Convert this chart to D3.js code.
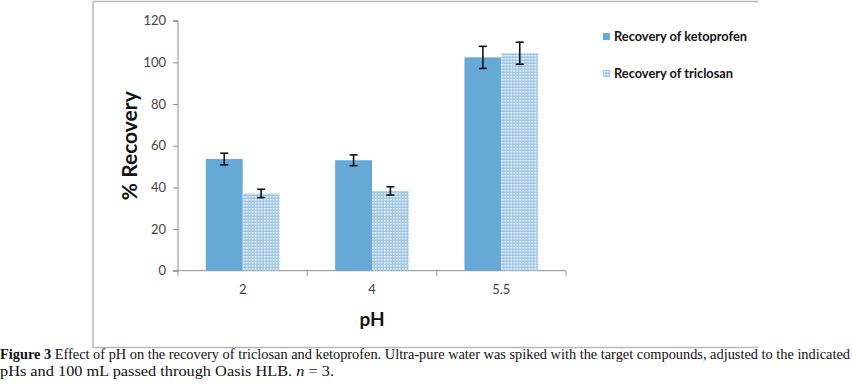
<!DOCTYPE html>
<html><head><meta charset="utf-8">
<script src="https://cdn.jsdelivr.net/npm/d3@7"></script>
<style>body{margin:0;background:#fff}svg{display:block}</style>
</head><body><svg id="c" width="852" height="391"></svg>
<script>
const categories = ["2", "4", "5.5"];
const seriesNames = ["Recovery of ketoprofen", "Recovery of triclosan"];
const ketoprofen = [53.6, 53.0, 102.4];
const ketoprofenErr = [2.8, 2.6, 5.3];
const triclosan = [37.1, 38.3, 104.4];
const triclosanErr = [2.0, 2.0, 5.3];
const yTicks = [0, 20, 40, 60, 80, 100, 120];
const captionBold = "Figure 3";
const captionLine1 = " Effect of pH on the recovery of triclosan and ketoprofen. Ultra-pure water was spiked with the target compounds, adjusted to the indicated";
const captionLine2a = "pHs and 100 mL passed through Oasis HLB. ";
const captionLine2b = "n";
const captionLine2c = " = 3.";

const svg = d3.select("#c");
const defs = svg.append("defs");
const pat = defs.append("pattern").attr("id","hatch").attr("patternUnits","userSpaceOnUse")
  .attr("width",3).attr("height",3);
pat.append("rect").attr("width",3).attr("height",3).attr("fill","#9fc6e6");
pat.append("rect").attr("x",1).attr("y",1).attr("width",1.5).attr("height",1.5).attr("fill","#ffffff");

// frame
const fr = svg.append("g").attr("stroke","#b8b8b8").attr("stroke-width",1.5).attr("fill","none");
fr.append("path").attr("d","M758,1.5 H93 V347.5 H758");

const x0 = 178, x1 = 566, yTop = 20.7, yBot = 270.7;
const x = d3.scaleBand().domain(categories).range([x0, x1]).paddingInner(0.43).paddingOuter(0.215);
const xs = d3.scaleBand().domain(seriesNames).range([0, x.bandwidth()]);
const y = d3.scaleLinear().domain([0, 120]).range([yBot, yTop]);

// y axis
const ya = svg.append("g").attr("transform",`translate(${x0},0)`)
  .call(d3.axisLeft(y).tickValues(yTicks).tickSize(5).tickPadding(7));
ya.select(".domain").attr("stroke","#8c8c8c").attr("d",`M-5,${yTop}H0V${yBot}H-5`);
ya.selectAll(".tick line").attr("stroke","#8c8c8c");
ya.selectAll("text").attr("font-family","Lato, 'Open Sans', sans-serif").attr("font-size",13).attr("fill","#444");

// x axis
const xa = svg.append("g").attr("transform",`translate(0,${yBot})`)
  .call(d3.axisBottom(x).tickSize(0).tickPadding(14));
xa.select(".domain").attr("stroke","#8c8c8c").attr("d",`M${x0},0H${x1}`);
xa.selectAll("text").attr("font-family","Lato, 'Open Sans', sans-serif").attr("font-size",13).attr("fill","#444");
const step = (x1 - x0) / categories.length;
xa.selectAll(".sep").data(d3.range(categories.length + 1)).join("line")
  .attr("x1", i => x0 + i * step).attr("x2", i => x0 + i * step)
  .attr("y1", 0).attr("y2", 5).attr("stroke","#8c8c8c");

// bars
const data = categories.map((c, i) => ({c, vals: [
  {s: seriesNames[0], v: ketoprofen[i], e: ketoprofenErr[i]},
  {s: seriesNames[1], v: triclosan[i], e: triclosanErr[i]}]}));
const fills = {[seriesNames[0]]: "#66a8d6", [seriesNames[1]]: "url(#hatch)"};
const g = svg.selectAll(".grp").data(data).join("g").attr("transform", d => `translate(${x(d.c)},0)`);
g.selectAll("rect").data(d => d.vals).join("rect")
  .attr("x", d => xs(d.s)).attr("width", xs.bandwidth())
  .attr("y", d => y(d.v)).attr("height", d => y(0) - y(d.v))
  .attr("fill", d => fills[d.s]);
const eb = g.selectAll(".eb").data(d => d.vals).join("g").attr("stroke","#111").attr("stroke-width",1.6);
eb.append("line").attr("x1", d => xs(d.s) + xs.bandwidth()/2).attr("x2", d => xs(d.s) + xs.bandwidth()/2)
  .attr("y1", d => y(d.v + d.e)).attr("y2", d => y(d.v - d.e));
eb.append("line").attr("x1", d => xs(d.s) + xs.bandwidth()/2 - 4).attr("x2", d => xs(d.s) + xs.bandwidth()/2 + 4)
  .attr("y1", d => y(d.v + d.e)).attr("y2", d => y(d.v + d.e));
eb.append("line").attr("x1", d => xs(d.s) + xs.bandwidth()/2 - 4).attr("x2", d => xs(d.s) + xs.bandwidth()/2 + 4)
  .attr("y1", d => y(d.v - d.e)).attr("y2", d => y(d.v - d.e));

// axis titles
svg.append("text").attr("transform",`translate(137,${(yTop+yBot)/2}) rotate(-90)`)
  .attr("text-anchor","middle").attr("font-family","Lato, 'Open Sans', sans-serif")
  .attr("font-weight","bold").attr("font-size",21).attr("fill","#111").text("% Recovery");
svg.append("text").attr("x",(x0+x1)/2).attr("y",326).attr("text-anchor","middle")
  .attr("font-family","Lato, 'Open Sans', sans-serif").attr("font-weight","bold")
  .attr("font-size",19).attr("fill","#111").text("pH");

// legend
const lg = svg.append("g").selectAll("g").data(seriesNames).join("g")
  .attr("transform", (d, i) => `translate(603,${33 + i * 37})`);
lg.append("rect").attr("width",7).attr("height",7).attr("fill", d => fills[d]);
lg.append("text").attr("x",11).attr("y",8).attr("font-family","Lato, 'Open Sans', sans-serif")
  .attr("font-weight","bold").attr("font-size",12.8).attr("fill","#111").text(d => d);

// caption
const cap = svg.append("g").attr("font-family","'Liberation Serif', 'DejaVu Serif', serif").attr("font-size",14).attr("fill","#111");
const t1 = cap.append("text").attr("x",0).attr("y",359).attr("textLength",850).attr("lengthAdjust","spacingAndGlyphs");
t1.append("tspan").attr("font-weight","bold").text(captionBold);
t1.append("tspan").text(captionLine1);
const t2 = cap.append("text").attr("x",0).attr("y",376).attr("textLength",334).attr("lengthAdjust","spacingAndGlyphs");
t2.append("tspan").text(captionLine2a);
t2.append("tspan").attr("font-style","italic").text(captionLine2b);
t2.append("tspan").text(captionLine2c);
</script></body></html>
